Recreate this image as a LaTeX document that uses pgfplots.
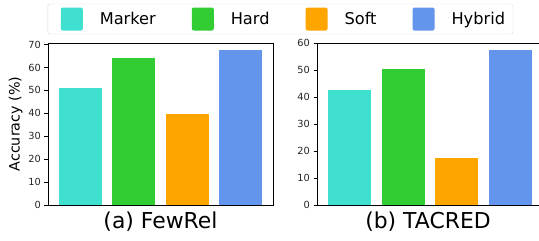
\documentclass[border=0pt]{standalone}
\usepackage{pgfplots}
\pgfplotsset{compat=1.18}
\usepackage{fontspec}
\setmainfont{DejaVu Sans}
\definecolor{cMarker}{HTML}{40E0D0}
\definecolor{cHard}{HTML}{32CD32}
\definecolor{cSoft}{HTML}{FFA500}
\definecolor{cHybrid}{HTML}{6495ED}
\pgfplotsset{
  myaxis/.style={
    scale only axis, height=162pt,
    anchor=south west,
    ymin=0,
    xmin=-0.6,
    xtick=\empty,
    ytick pos=left,
    tick align=outside,
    major tick length=3.5pt,
    tick style={black, line width=0.8pt},
    axis line style={line width=0.8pt},
    every axis plot/.append style={ybar, bar width=0.8, bar shift=0pt, draw=none},
    tick label style={font=\fontsize{9.8}{11}\selectfont, text=black!85},
    /pgf/number format/assume math mode=true,
    xlabel style={font=\fontsize{21.9}{25}\selectfont, yshift=0pt},
    legend image code/.code={\path (0pt,0pt); \fill[##1] (7pt,-11.5pt) rectangle (29pt,11.5pt);},
  }
}
\begin{document}
\begin{tikzpicture}
\path[use as bounding box] (0,0) rectangle (539pt,241pt);
\begin{axis}[myaxis, at={(48pt,36pt)}, width=225pt, xmax=3.6, ymax=70.7,
  ytick={0,10,20,30,40,50,60,70},
  ylabel={Accuracy (\%)}, ylabel style={font=\fontsize{14.3}{16}\selectfont, yshift=-1pt},
  xlabel={(a) FewRel},
  legend columns=4,
  legend style={at={(1.033,1.148)}, anchor=center, draw=black!15, rounded corners=2pt,
    font=\fontsize{16.2}{18}\selectfont, inner xsep=6pt, inner ysep=3.5pt,
    /tikz/every odd column/.append style={column sep=15pt},
    /tikz/every even column/.append style={column sep=27pt}},
]
\addplot[fill=cMarker] coordinates {(0,51.0)};
\addplot[fill=cHard] coordinates {(1,64.0)};
\addplot[fill=cSoft] coordinates {(2,39.7)};
\addplot[fill=cHybrid] coordinates {(3,67.5)};
\legend{Marker,Hard,Soft,Hybrid}
\end{axis}
\begin{axis}[myaxis, at={(317pt,36pt)}, width=222pt, xmax=3.53, ymax=60.1,
  ytick={0,10,20,30,40,50,60},
  xlabel={(b) TACRED},
]
\addplot[fill=cMarker] coordinates {(0,42.7)};
\addplot[fill=cHard] coordinates {(1,50.3)};
\addplot[fill=cSoft] coordinates {(2,17.4)};
\addplot[fill=cHybrid] coordinates {(3,57.4)};
\end{axis}
\end{tikzpicture}
\end{document}
